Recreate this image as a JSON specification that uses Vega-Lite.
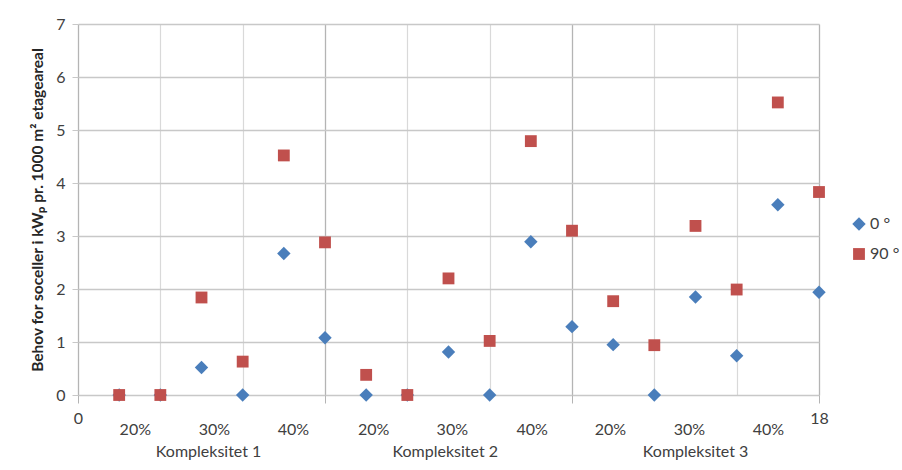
{
  "$schema": "https://vega.github.io/schema/vega-lite/v6.json",
  "width": 741,
  "height": 371,
  "autosize": {"type": "none"},
  "padding": {"left": 78, "top": 24, "right": 83, "bottom": 75},
  "background": "#ffffff",
  "config": {
    "font": "Lato",
    "view": {"stroke": null},
    "axis": {"labelColor": "#404040", "labelFontSize": 16, "labelFont": "Lato"}
  },
  "datasets": {
    "points": [
      {"x": 1, "value": 0, "series": "0 °"},
      {"x": 2, "value": 0, "series": "0 °"},
      {"x": 3, "value": 0.52, "series": "0 °"},
      {"x": 4, "value": 0, "series": "0 °"},
      {"x": 5, "value": 2.67, "series": "0 °"},
      {"x": 6, "value": 1.08, "series": "0 °"},
      {"x": 7, "value": 0, "series": "0 °"},
      {"x": 8, "value": 0, "series": "0 °"},
      {"x": 9, "value": 0.81, "series": "0 °"},
      {"x": 10, "value": 0, "series": "0 °"},
      {"x": 11, "value": 2.89, "series": "0 °"},
      {"x": 12, "value": 1.29, "series": "0 °"},
      {"x": 13, "value": 0.95, "series": "0 °"},
      {"x": 14, "value": 0, "series": "0 °"},
      {"x": 15, "value": 1.85, "series": "0 °"},
      {"x": 16, "value": 0.74, "series": "0 °"},
      {"x": 17, "value": 3.59, "series": "0 °"},
      {"x": 18, "value": 1.94, "series": "0 °"},
      {"x": 1, "value": 0, "series": "90 °"},
      {"x": 2, "value": 0, "series": "90 °"},
      {"x": 3, "value": 1.84, "series": "90 °"},
      {"x": 4, "value": 0.63, "series": "90 °"},
      {"x": 5, "value": 4.52, "series": "90 °"},
      {"x": 6, "value": 2.88, "series": "90 °"},
      {"x": 7, "value": 0.38, "series": "90 °"},
      {"x": 8, "value": 0, "series": "90 °"},
      {"x": 9, "value": 2.2, "series": "90 °"},
      {"x": 10, "value": 1.02, "series": "90 °"},
      {"x": 11, "value": 4.79, "series": "90 °"},
      {"x": 12, "value": 3.1, "series": "90 °"},
      {"x": 13, "value": 1.77, "series": "90 °"},
      {"x": 14, "value": 0.94, "series": "90 °"},
      {"x": 15, "value": 3.19, "series": "90 °"},
      {"x": 16, "value": 1.99, "series": "90 °"},
      {"x": 17, "value": 5.52, "series": "90 °"},
      {"x": 18, "value": 3.83, "series": "90 °"}
    ]
  },
  "data": {"name": "points"},
  "encoding": {
    "y": {
      "field": "value",
      "type": "quantitative",
      "scale": {"domain": [0, 7], "nice": false},
      "axis": {
        "values": [0, 1, 2, 3, 4, 5, 6, 7],
        "grid": true,
        "gridColor": "#C8C8C8",
        "gridWidth": 1.3,
        "domain": false,
        "tickColor": "#C8C8C8",
        "tickSize": 6,
        "labelPadding": 7,
        "title": "Behov for soceller i kWₚ pr. 1000 m² etageareal",
        "titleFont": "Lato",
        "titleFontSize": 15.5,
        "titleFontWeight": "bold",
        "titleColor": "#262626",
        "titlePadding": 10
      }
    }
  },
  "layer": [
    {
      "mark": {"type": "point", "opacity": 0},
      "encoding": {
        "x": {
          "field": "x",
          "type": "quantitative",
          "scale": {"domain": [0, 18], "nice": false},
          "axis": {
            "orient": "bottom",
            "values": [2, 4, 8, 10, 14, 16],
            "grid": true,
            "gridColor": "#D9D9D9",
            "gridWidth": 1.2,
            "domain": false,
            "ticks": false,
            "labels": false,
            "title": null
          }
        }
      }
    },
    {
      "mark": {"type": "point", "opacity": 0},
      "encoding": {
        "x": {
          "field": "x",
          "type": "quantitative",
          "axis": {
            "orient": "bottom",
            "values": [0, 6, 12, 18],
            "grid": true,
            "gridColor": "#B4B4B4",
            "gridWidth": 1.3,
            "domain": false,
            "tickColor": "#B4B4B4",
            "tickSize": 8,
            "labelExpr": "datum.value == 0 || datum.value == 18 ? datum.label : ''",
            "labelPadding": 7,
            "labelAlign": "center",
            "title": null
          }
        }
      }
    },
    {
      "mark": {"type": "point", "opacity": 0},
      "encoding": {
        "x": {
          "field": "x",
          "type": "quantitative",
          "axis": {
            "orient": "bottom",
            "values": [1.38, 3.3, 5.22, 7.17, 9.08, 11.02, 12.92, 14.84, 16.76],
            "labelExpr": "['20%', '30%', '40%'][indexof([1.38, 7.17, 12.92], datum.value) >= 0 ? 0 : indexof([3.3, 9.08, 14.84], datum.value) >= 0 ? 1 : 2]",
            "grid": false,
            "domain": false,
            "ticks": false,
            "labelPadding": 26,
            "labelAlign": "center",
            "title": null
          }
        }
      }
    },
    {
      "mark": {"type": "point", "opacity": 0},
      "encoding": {
        "x": {
          "field": "x",
          "type": "quantitative",
          "axis": {
            "orient": "bottom",
            "values": [3.16, 8.91, 14.99],
            "labelExpr": "datum.value < 6 ? 'Kompleksitet 1' : datum.value < 12 ? 'Kompleksitet 2' : 'Kompleksitet 3'",
            "grid": false,
            "domain": false,
            "ticks": false,
            "labelPadding": 48,
            "labelAlign": "center",
            "title": null
          }
        }
      }
    },
    {
      "mark": {"type": "point", "filled": true, "opacity": 1},
      "encoding": {
        "x": {"field": "x", "type": "quantitative", "axis": null},
        "color": {
          "field": "series",
          "type": "nominal",
          "scale": {"domain": ["0 °", "90 °"], "range": ["#4A7EBB", "#C0504D"]},
          "legend": {
            "title": null,
            "orient": "none",
            "legendX": 773,
            "legendY": 192,
            "labelFontSize": 16,
            "labelColor": "#404040",
            "symbolSize": 150,
            "rowPadding": 14,
            "labelOffset": 3
          }
        },
        "shape": {
          "field": "series",
          "type": "nominal",
          "scale": {"domain": ["0 °", "90 °"], "range": ["diamond", "square"]}
        },
        "size": {
          "field": "series",
          "type": "nominal",
          "scale": {"domain": ["0 °", "90 °"], "range": [180, 140]},
          "legend": null
        }
      }
    }
  ],
  "resolve": {"axis": {"x": "independent"}}
}
